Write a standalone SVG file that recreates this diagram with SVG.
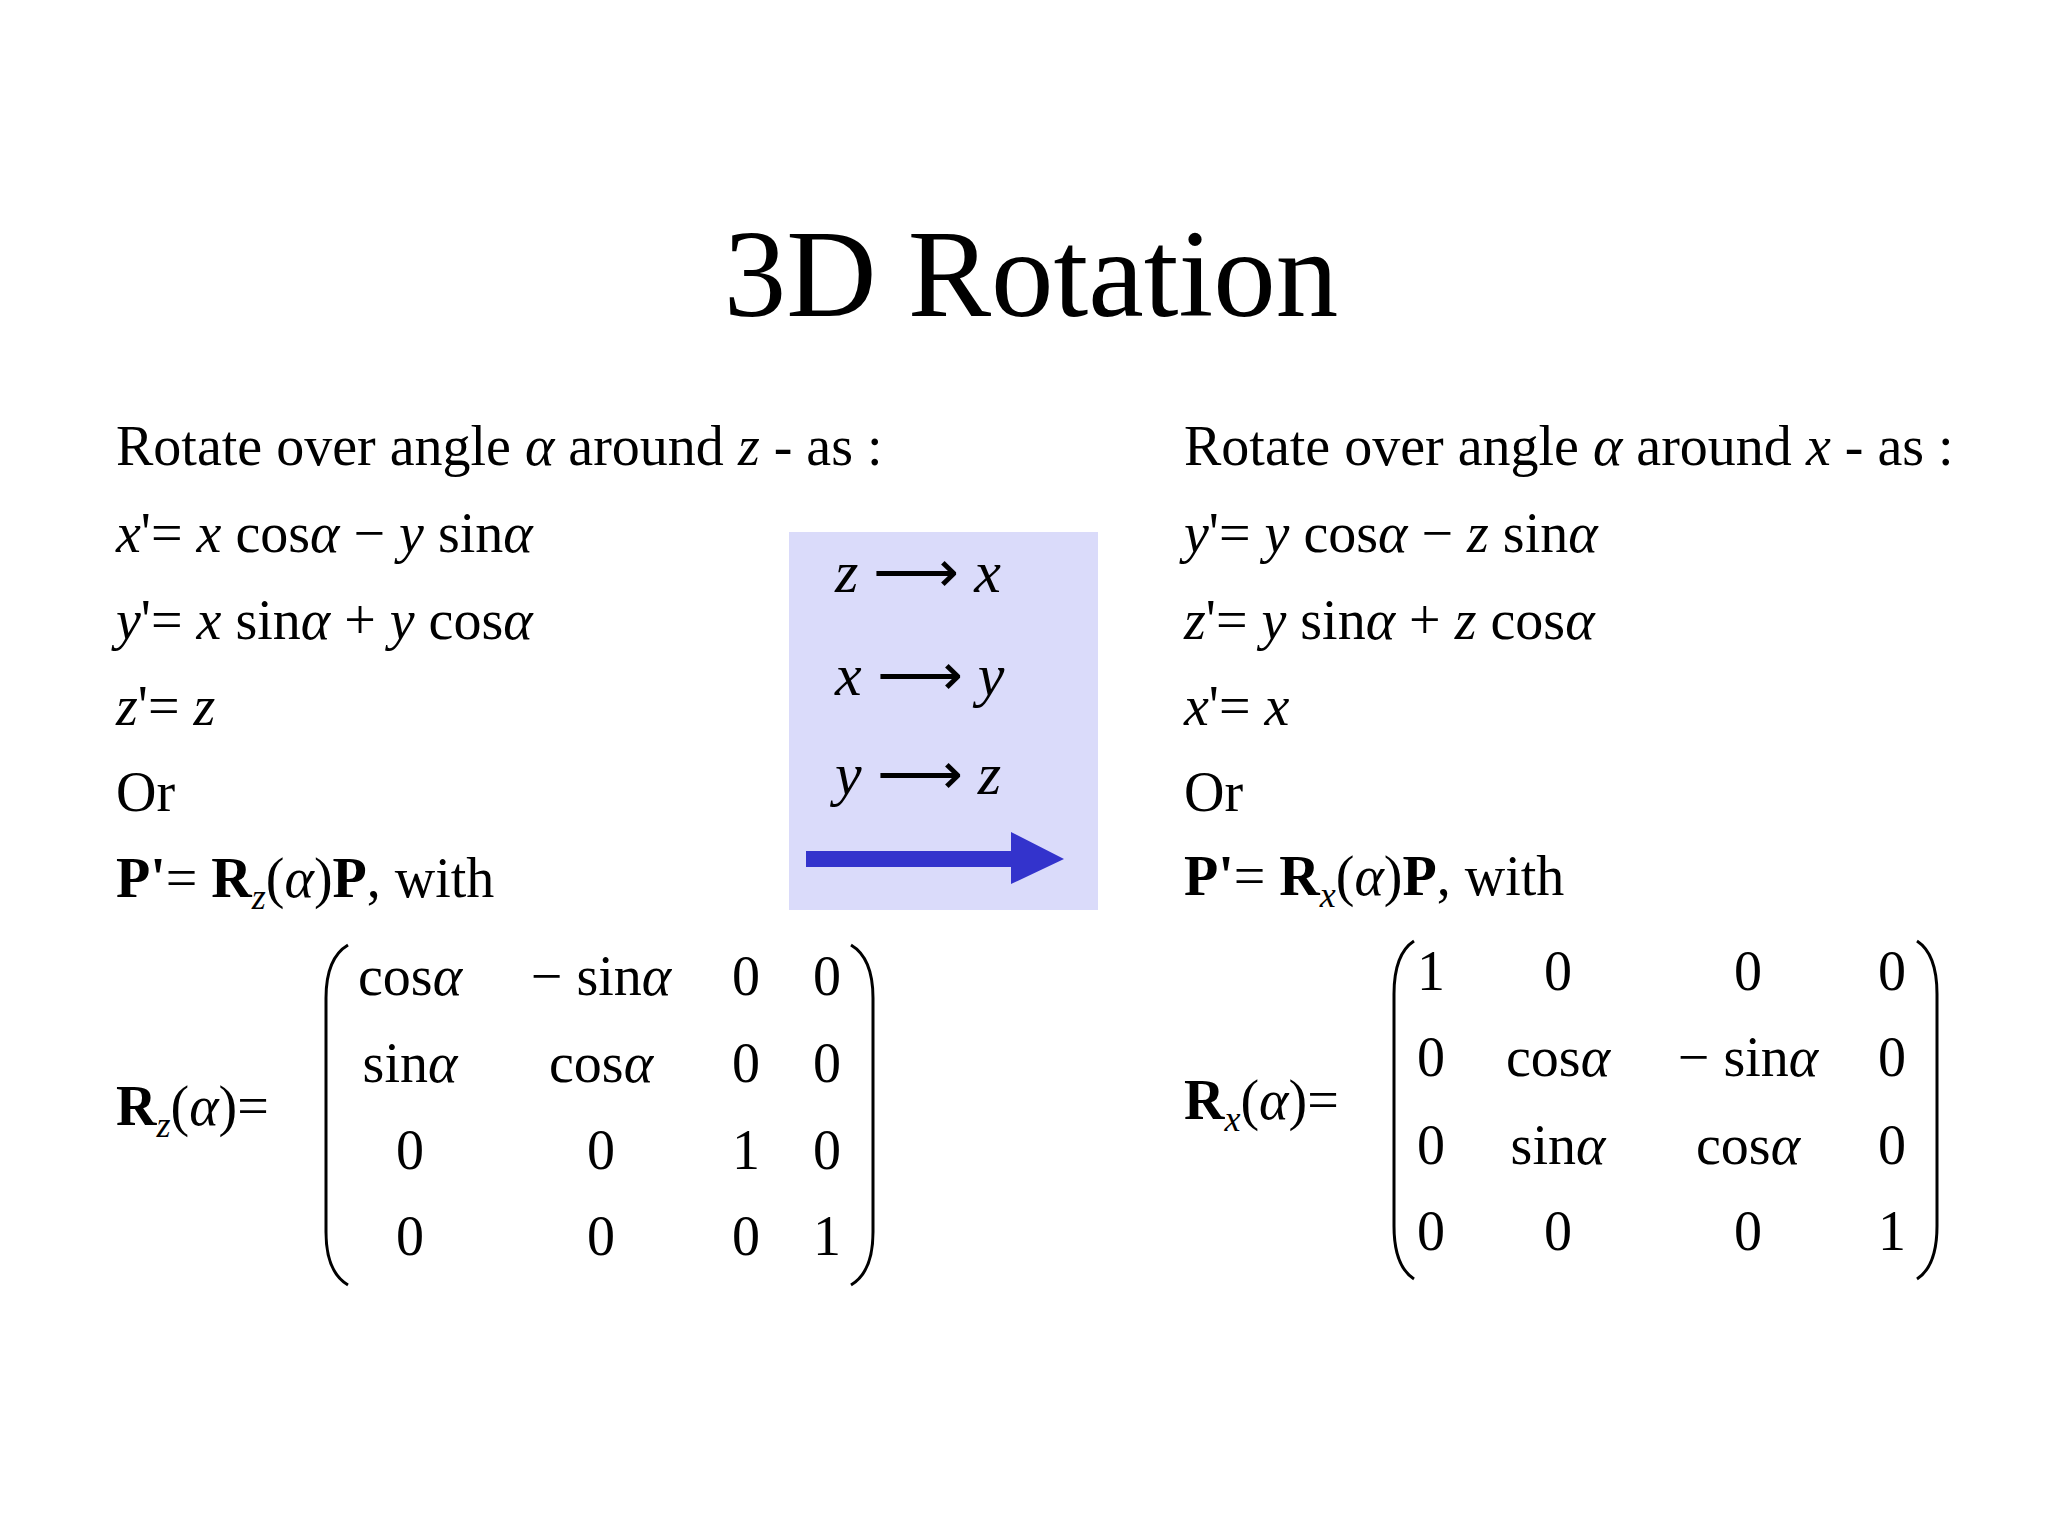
<svg xmlns="http://www.w3.org/2000/svg" width="2048" height="1536" viewBox="0 0 2048 1536">
<style>
text{font-family:"Liberation Serif","Times New Roman",serif;font-size:56px;fill:#000}
.i{font-style:italic}
.b{font-weight:bold}
.s{font-size:36px;font-style:italic}
.m{text-anchor:middle}
.p{fill:none;stroke:#000;stroke-width:3}
</style>
<rect width="2048" height="1536" fill="#fff"/>
<text x="1031" y="316" text-anchor="middle" style="font-size:125px">3D Rotation</text>
<g id="left">
<text x="116" y="465">Rotate over angle <tspan class="i">α</tspan> around <tspan class="i">z</tspan> - as :</text>
<text x="116" y="552"><tspan class="i">x</tspan>'= <tspan class="i">x</tspan> cos<tspan class="i">α</tspan> − <tspan class="i">y</tspan> sin<tspan class="i">α</tspan></text>
<text x="116" y="639"><tspan class="i">y</tspan>'= <tspan class="i">x</tspan> sin<tspan class="i">α</tspan> + <tspan class="i">y</tspan> cos<tspan class="i">α</tspan></text>
<text x="116" y="725"><tspan class="i">z</tspan>'= <tspan class="i">z</tspan></text>
<text x="116" y="811">Or</text>
<text x="116" y="897"><tspan class="b">P'</tspan>= <tspan class="b">R</tspan><tspan class="s" dy="12">z</tspan><tspan dy="-12">(</tspan><tspan class="i">α</tspan>)<tspan class="b">P</tspan>,  with</text>
<text x="116" y="1125"><tspan class="b">R</tspan><tspan class="s" dy="12">z</tspan><tspan dy="-12">(</tspan><tspan class="i">α</tspan>)=</text>
<path class="p" d="M348,945 Q326,958 326,998 L326,1232 Q326,1272 348,1285"/>
<path class="p" d="M851,945 Q873,958 873,998 L873,1232 Q873,1272 851,1285"/>
<text x="410" y="995" class="m">cos<tspan class="i">α</tspan></text>
<text x="601" y="995" class="m">− sin<tspan class="i">α</tspan></text>
<text x="746" y="995" class="m">0</text><text x="827" y="995" class="m">0</text>
<text x="410" y="1082" class="m">sin<tspan class="i">α</tspan></text>
<text x="601" y="1082" class="m">cos<tspan class="i">α</tspan></text>
<text x="746" y="1082" class="m">0</text><text x="827" y="1082" class="m">0</text>
<text x="410" y="1169" class="m">0</text><text x="601" y="1169" class="m">0</text>
<text x="746" y="1169" class="m">1</text><text x="827" y="1169" class="m">0</text>
<text x="410" y="1255" class="m">0</text><text x="601" y="1255" class="m">0</text>
<text x="746" y="1255" class="m">0</text><text x="827" y="1255" class="m">1</text>
</g>
<g id="box">
<rect x="789" y="532" width="309" height="378" fill="#dadbfa"/>
<text x="835" y="592" style="font-size:60px"><tspan class="i">z</tspan> ⟶ <tspan class="i">x</tspan></text>
<text x="835" y="695" style="font-size:60px"><tspan class="i">x</tspan> ⟶ <tspan class="i">y</tspan></text>
<text x="835" y="794" style="font-size:60px"><tspan class="i">y</tspan> ⟶ <tspan class="i">z</tspan></text>
<polygon points="806,851 1011,851 1011,832 1064,859 1011,884 1011,867 806,867" fill="#3333cc"/>
</g>
<g id="right">
<text x="1184" y="465">Rotate over angle <tspan class="i">α</tspan> around <tspan class="i">x</tspan> - as :</text>
<text x="1184" y="552"><tspan class="i">y</tspan>'= <tspan class="i">y</tspan> cos<tspan class="i">α</tspan> − <tspan class="i">z</tspan> sin<tspan class="i">α</tspan></text>
<text x="1184" y="639"><tspan class="i">z</tspan>'= <tspan class="i">y</tspan> sin<tspan class="i">α</tspan> + <tspan class="i">z</tspan> cos<tspan class="i">α</tspan></text>
<text x="1184" y="725"><tspan class="i">x</tspan>'= <tspan class="i">x</tspan></text>
<text x="1184" y="811">Or</text>
<text x="1184" y="895"><tspan class="b">P'</tspan>= <tspan class="b">R</tspan><tspan class="s" dy="12">x</tspan><tspan dy="-12">(</tspan><tspan class="i">α</tspan>)<tspan class="b">P</tspan>,  with</text>
<text x="1184" y="1119"><tspan class="b">R</tspan><tspan class="s" dy="12">x</tspan><tspan dy="-12">(</tspan><tspan class="i">α</tspan>)=</text>
<path class="p" d="M1414,941 Q1394,954 1394,994 L1394,1226 Q1394,1266 1414,1279"/>
<path class="p" d="M1917,941 Q1937,954 1937,994 L1937,1226 Q1937,1266 1917,1279"/>
<text x="1431" y="990" class="m">1</text><text x="1558" y="990" class="m">0</text>
<text x="1748" y="990" class="m">0</text><text x="1892" y="990" class="m">0</text>
<text x="1431" y="1076" class="m">0</text><text x="1558" y="1076" class="m">cos<tspan class="i">α</tspan></text>
<text x="1748" y="1076" class="m">− sin<tspan class="i">α</tspan></text><text x="1892" y="1076" class="m">0</text>
<text x="1431" y="1164" class="m">0</text><text x="1558" y="1164" class="m">sin<tspan class="i">α</tspan></text>
<text x="1748" y="1164" class="m">cos<tspan class="i">α</tspan></text><text x="1892" y="1164" class="m">0</text>
<text x="1431" y="1250" class="m">0</text><text x="1558" y="1250" class="m">0</text>
<text x="1748" y="1250" class="m">0</text><text x="1892" y="1250" class="m">1</text>
</g>
</svg>
